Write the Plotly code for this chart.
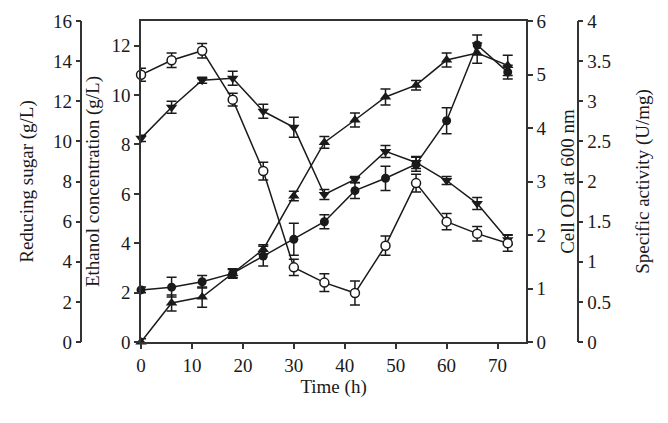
import plotly.graph_objects as go

time_h = [0, 6, 12, 18, 24, 30, 36, 42, 48, 54, 60, 66, 72]

# Reducing sugar (g/L) - filled inverted triangles
sugar = [10.15, 11.7, 13.05, 13.15, 11.5, 10.7, 7.35, 8.1, 9.5, 8.95, 8.05, 6.9, 5.1]
sugar_err = [0.15, 0.3, 0.15, 0.35, 0.35, 0.5, 0.25, 0.15, 0.3, 0.3, 0.2, 0.3, 0.25]

# Ethanol concentration (g/L) - filled circles
ethanol = [2.11, 2.22, 2.44, 2.78, 3.48, 4.16, 4.87, 6.13, 6.63, 7.2, 8.96, 12.03, 10.93]
ethanol_err = [0.12, 0.4, 0.25, 0.16, 0.4, 0.65, 0.28, 0.32, 0.49, 0.28, 0.53, 0.4, 0.28]

# Cell OD at 600 nm - filled triangles
cell_od = [0.0, 0.73, 0.84, 1.28, 1.73, 2.73, 3.73, 4.15, 4.58, 4.8, 5.27, 5.4, 5.17]
cell_od_err = [0.06, 0.15, 0.19, 0.09, 0.09, 0.09, 0.11, 0.13, 0.15, 0.09, 0.13, 0.19, 0.19]

# Specific activity (U/mg) - open circles
activity = [3.33, 3.51, 3.63, 3.02, 2.13, 0.93, 0.74, 0.61, 1.2, 1.98, 1.5, 1.35, 1.23]
activity_err = [0.08, 0.09, 0.09, 0.08, 0.11, 0.1, 0.11, 0.15, 0.12, 0.11, 0.1, 0.09, 0.1]

x_ticks = [0, 10, 20, 30, 40, 50, 60, 70]

INK = "#1a1a1a"
FONT = "Liberation Serif"

def err(vals):
    return dict(type="data", array=vals, visible=True, color=INK, thickness=1.5, width=5)

fig = go.Figure()

fig.add_trace(go.Scatter(
    x=time_h, y=sugar, yaxis="y2", mode="lines+markers", name="Reducing sugar",
    line=dict(color=INK, width=1.5),
    marker=dict(symbol="triangle-down", size=10, color=INK),
    error_y=err(sugar_err), cliponaxis=False))

fig.add_trace(go.Scatter(
    x=time_h, y=cell_od, yaxis="y3", mode="lines+markers", name="Cell OD",
    line=dict(color=INK, width=1.5),
    marker=dict(symbol="triangle-up", size=10, color=INK),
    error_y=err(cell_od_err), cliponaxis=False))

fig.add_trace(go.Scatter(
    x=time_h, y=ethanol, yaxis="y", mode="lines+markers", name="Ethanol",
    line=dict(color=INK, width=1.5),
    marker=dict(symbol="circle", size=9, color=INK),
    error_y=err(ethanol_err), cliponaxis=False))

fig.add_trace(go.Scatter(
    x=time_h, y=activity, yaxis="y4", mode="lines+markers", name="Specific activity",
    line=dict(color=INK, width=1.5),
    marker=dict(symbol="circle", size=9, color="white", line=dict(color=INK, width=1.5)),
    error_y=err(activity_err), cliponaxis=False))

OFFX, OFFY = 11, 8  # page offset of the figure inside the browser page
ML, MR = 2, 10
W = 668
pw = W - ML - MR
def frac(page_px):
    return (page_px - OFFX - ML) / pw

axis_common = dict(
    showline=True, linecolor="#333", linewidth=1.5, ticks="outside", ticklen=5,
    tickcolor="#333", tickwidth=1.5, showgrid=False, zeroline=False,
    tickfont=dict(family=FONT, size=19, color=INK),
    title_font=dict(family=FONT, size=19, color=INK),
)

fig.update_layout(
    width=668, height=423,
    margin=dict(l=ML, r=MR, t=21 - OFFY, b=423 - (342 - OFFY)),
    paper_bgcolor="white", plot_bgcolor="white",
    showlegend=False,
    font=dict(family=FONT, size=19, color=INK),
    xaxis=dict(
        domain=[frac(140), frac(528)], range=[0, 75.6],
        tickmode="array", tickvals=x_ticks, mirror=True,
        title=dict(text="Time (h)", standoff=0),
        **axis_common),
    yaxis=dict(
        range=[0, 13], dtick=2, tick0=0, side="left", anchor="x",
        title=dict(text="Ethanol concentration (g/L)", standoff=7),
        **axis_common),
    yaxis2=dict(
        range=[0, 16], dtick=2, tick0=0, side="left", overlaying="y",
        anchor="free", position=frac(80),
        title=dict(text="Reducing sugar (g/L)", standoff=13),
        **axis_common),
    yaxis3=dict(
        range=[0, 6], dtick=1, tick0=0, side="right", overlaying="y", anchor="x",
        title=dict(text="Cell OD at 600 nm", standoff=15),
        **axis_common),
    yaxis4=dict(
        range=[0, 4], dtick=0.5, tick0=0, side="right", overlaying="y",
        anchor="free", position=frac(580),
        title=dict(text="Specific activity (U/mg)", standoff=25),
        **axis_common),
)

fig.write_html("out.html")
